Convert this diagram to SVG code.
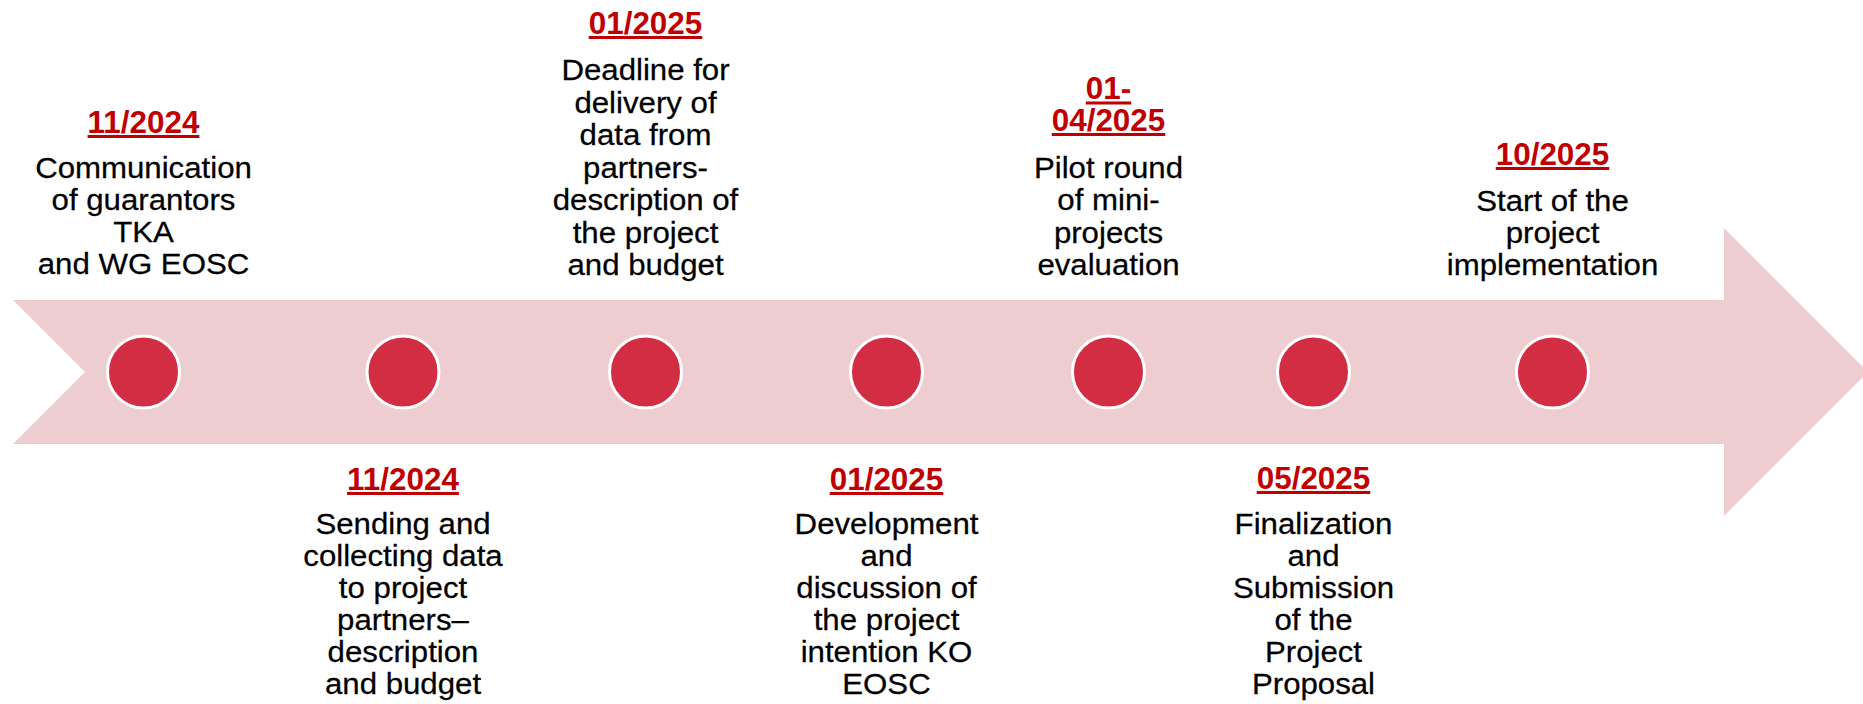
<svg xmlns="http://www.w3.org/2000/svg" width="1863" height="704" viewBox="0 0 1863 704">
<style>
.date{font-family:"Liberation Sans",Arial,sans-serif;font-weight:bold;font-size:30.5px;fill:#C00000;text-anchor:middle;text-decoration:underline;}
.body{font-family:"Liberation Sans",Arial,sans-serif;font-size:29px;fill:#000;text-anchor:middle;stroke:#000;stroke-width:0.25;}
.dot{fill:#D22D43;stroke:#FFFFFF;stroke-width:3;}
</style>
<rect width="1863" height="704" fill="#FFFFFF"/>
<g id="connectors">
<polygon points="13,300 1724,300 1724,228 1868,372 1724,516 1724,444 13,444 85,372" fill="#EDCDD0"/>
</g>
<g id="n1" transform="translate(143.5,0)">
<circle class="dot" cx="0" cy="372" r="36"/>
<text class="date" transform="scale(1.03,1)" x="0" y="133">11/2024</text>
<text class="body" transform="scale(1.076,1)"><tspan x="0" y="178.5">Communication</tspan><tspan x="0" y="210.5">of guarantors</tspan><tspan x="0" y="242.5">TKA</tspan><tspan x="0" y="274.5">and WG EOSC</tspan></text>
</g>
<g id="n2" transform="translate(403,0)">
<circle class="dot" cx="0" cy="372" r="36"/>
<text class="date" transform="scale(1.03,1)" x="0" y="490">11/2024</text>
<text class="body" transform="scale(1.076,1)"><tspan x="0" y="534.5">Sending and</tspan><tspan x="0" y="566.5">collecting data</tspan><tspan x="0" y="598.5">to project</tspan><tspan x="0" y="630.5">partners–</tspan><tspan x="0" y="662.5">description</tspan><tspan x="0" y="694.5">and budget</tspan></text>
</g>
<g id="n3" transform="translate(645.5,0)">
<circle class="dot" cx="0" cy="372" r="36"/>
<text class="date" transform="scale(1.03,1)" x="0" y="34">01/2025</text>
<text class="body" transform="scale(1.076,1)"><tspan x="0" y="80.5">Deadline for</tspan><tspan x="0" y="113">delivery of</tspan><tspan x="0" y="145.4">data from</tspan><tspan x="0" y="177.8">partners-</tspan><tspan x="0" y="210.2">description of</tspan><tspan x="0" y="242.6">the project</tspan><tspan x="0" y="275">and budget</tspan></text>
</g>
<g id="n4" transform="translate(886.5,0)">
<circle class="dot" cx="0" cy="372" r="36"/>
<text class="date" transform="scale(1.03,1)" x="0" y="490">01/2025</text>
<text class="body" transform="scale(1.076,1)"><tspan x="0" y="534.5">Development</tspan><tspan x="0" y="566.5">and</tspan><tspan x="0" y="598.5">discussion of</tspan><tspan x="0" y="630.5">the project</tspan><tspan x="0" y="662.5">intention KO</tspan><tspan x="0" y="694.5">EOSC</tspan></text>
</g>
<g id="n5" transform="translate(1108.5,0)">
<circle class="dot" cx="0" cy="372" r="36"/>
<text class="date" transform="scale(1.03,1)"><tspan x="0" y="99.5">01-</tspan><tspan x="0" y="131">04/2025</tspan></text>
<text class="body" transform="scale(1.076,1)"><tspan x="0" y="178">Pilot round</tspan><tspan x="0" y="210.3">of mini-</tspan><tspan x="0" y="242.6">projects</tspan><tspan x="0" y="275">evaluation</tspan></text>
</g>
<g id="n6" transform="translate(1313.5,0)">
<circle class="dot" cx="0" cy="372" r="36"/>
<text class="date" transform="scale(1.03,1)" x="0" y="489">05/2025</text>
<text class="body" transform="scale(1.076,1)"><tspan x="0" y="534">Finalization</tspan><tspan x="0" y="566">and</tspan><tspan x="0" y="598">Submission</tspan><tspan x="0" y="630">of the</tspan><tspan x="0" y="662">Project</tspan><tspan x="0" y="694">Proposal</tspan></text>
</g>
<g id="n7" transform="translate(1552.5,0)">
<circle class="dot" cx="0" cy="372" r="36"/>
<text class="date" transform="scale(1.03,1)" x="0" y="165">10/2025</text>
<text class="body" transform="scale(1.076,1)"><tspan x="0" y="211">Start of the</tspan><tspan x="0" y="243">project</tspan><tspan x="0" y="275">implementation</tspan></text>
</g>
</svg>
